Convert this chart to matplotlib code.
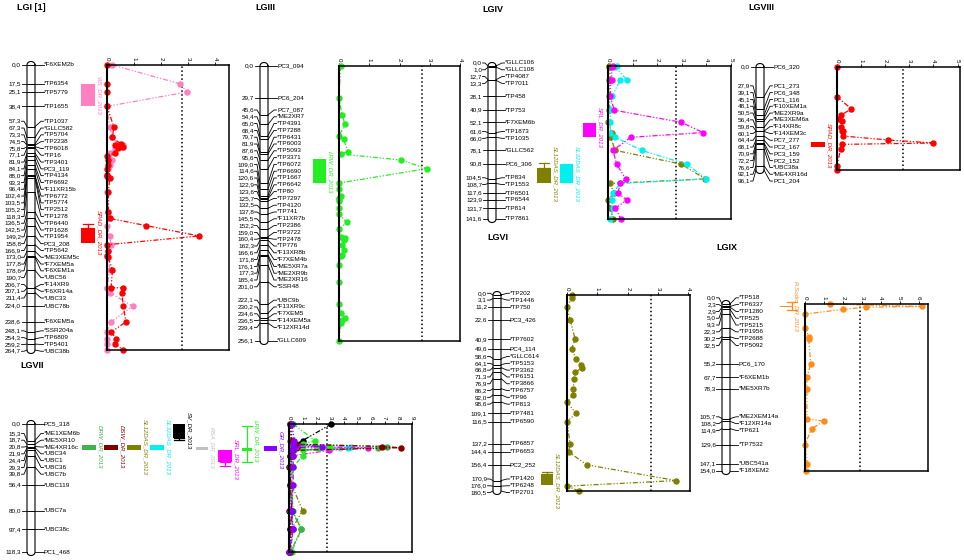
import numpy as np
import matplotlib
matplotlib.use("Agg")
import matplotlib.pyplot as plt
from matplotlib.patches import Rectangle

plt.rcParams['font.family'] = ['Liberation Sans', 'DejaVu Sans']

# ---- linkage groups: marker positions (cM) and names ----
LGI_CM = [0.0, 17.5, 25.1, 38.4, 57.3, 67.3, 73.3, 74.5, 75.8, 77.1, 81.9, 84.1, 88.0, 93.3,
          96.4, 102.4, 103.5, 105.2, 118.3, 136.5, 142.5, 149.2, 158.8, 166.9, 173.0, 177.8,
          178.6, 190.7, 206.7, 207.1, 211.4, 224.0, 238.6, 248.1, 254.3, 259.2, 264.7]
LGI_MK = ['*F6XEM2b', '*TP6354', '*TP5779', '*TP1655', '*TP1037', '*GLLC582', '*TP5704',
          '*TP2238', '*TP6018', '*TP16', '*TP3401', 'PC3_119', '*TP4134', '*TP6692',
          '*F11XR15b', '*TP6772', '*TP5774', '*TP2512', '*TP1278', '*TP6440', '*TP1628',
          '*TP1954', 'PC3_208', '*TP5642', '*ME3XEM5c', '*F7XEM5a', '*F6XEM1a', '*UBC56',
          '*F14XR9', '*F6XR14a', '*UBC33', '*UBC78b', '*F6XEM5a', '*SSR204a', '*TP6809',
          '*TP5401', '*UBC38b']
LGI_SPAD = [0, 0, 0, 0, 0.25, 0.2, 0.5, 0.3, 0.6, 0.4, 0.3, 0.0, 0.05, 0.05, 0.0, 0.0, 0.0,
            0.1, 0.05, 0.05, 0.1, 1.45, 3.4, 0.0, 0.05, 0.0, 0.05, 0.2, 0.15, 0.6, 0.55, 0.6,
            0.7, 0.15, 0.35, 0.3, 0.6]
LGI_WS = [0.2, 2.7, 2.95, 0.0, 0.1, 0.2, 0.4, 0.6, 0.5, 0.3, 0.1, 0.05, 0.2, 0.1, 0.05, 0.0,
          0.0, 0.05, 0.0, 0.05, 0.1, 0.0, 0.1, 0.15, 0.05, 0.0, 0.05, 0.1, 0.0, 0.0, 0.1,
          0.95, 0.15, 0.0, 0.0, 0.0, 0.0]

LGIII_CM = [0.0, 29.7, 45.6, 54.4, 65.0, 68.4, 79.7, 81.9, 87.6, 95.6, 109.0, 114.6, 120.6,
            122.9, 123.6, 125.7, 132.5, 137.8, 145.5, 152.2, 159.0, 160.4, 162.3, 166.6,
            171.8, 176.1, 177.3, 185.4, 201.0, 222.1, 230.2, 234.6, 236.5, 239.4, 256.1]
LGIII_MK = ['PC3_094', 'PC6_204', 'PC7_087', '*ME2XR7', '*TP4391', '*TP7288', '*TP6431',
            '*TP6003', '*TP5093', '*TP3371', '*TP6072', '*TP6690', '*TP1667', '*TP6642',
            '*TP80', '*TP7297', '*TP4120', '*TP741', '*F11XR7b', '*TP2386', '*TP3722',
            '*TP2478', '*TP776', '*F13XR8b', '*F7XEM4b', '*ME5XR7a', '*ME2XR9b',
            '*ME2XR16', '*SSR48', '*UBC9b', '*F13XR9c', '*F7XEM5', '*F14XEM5a',
            '*F12XR14d', '*GLLC609']
LGIII_LRW = [0.05, 0.0, 0.1, 0.2, 0.0, 0.15, 0.3, 0.05, 2.05, 2.9, 0.0, 0.0, 0.05, 0.0, 0.0,
             0.0, 0.0, 0.0, 0.25, 0.0, 0.05, 0.2, 0.15, 0.1, 0.15, 0.1, 0.05, 0.0, 0.0, 0.0,
             0.05, 0.2, 0.1, 0.05, 0.0]

LGIV_CM = [0.0, 1.0, 12.7, 13.3, 28.1, 40.9, 52.1, 61.6, 66.0, 78.1, 90.8, 104.5, 108.7,
           117.6, 123.9, 131.7, 141.6]
LGIV_MK = ['*GLLC106', '*GLLC108', '*TP4087', '*TP7011', '*TP458', '*TP753', '*F7XEM6b',
           '*TP1873', '*TP1035', '*GLLC562', 'PC6_306', '*TP834', '*TP1553', '*TP6501',
           '*TP6544', '*TP814', '*TP7861']
LGIV_SRL = [0.2, 0.15, 0.15, 0.1, 0.1, 0.25, 2.98, 3.86, 0.93, 0.2, 0.35, 0.72, 0.5, 0.4,
            0.76, 0.3, 0.53]
LGIV_SL32 = [0.35, 0.3, 0.76, 0.5, 0.15, 0.1, 0.1, 0.1, 0.3, 1.37, 3.2, 4.0, 0.5, 0.2, 0.15,
             0.2, 0.1]
LGIV_SL12 = [0.05, 0.05, 0.1, 0.05, 0.05, 0.05, 0.0, 0.15, 0.1, 0.3, 2.98, 3.95, 0.08, 0.25,
             0.0, 0.1, 0.2]

LGVIII_CM = [0.0, 27.9, 39.1, 45.1, 48.1, 50.5, 56.4, 59.8, 60.1, 64.4, 68.1, 70.9, 72.2,
             76.6, 92.1, 96.1]
LGVIII_MK = ['PC6_320', 'PC1_273', 'PC6_348', 'PC1_116', '*F10XEM1a', '*ME2XR9a',
             '*ME3XEM6a', '*F14XR8c', '*F14XEM3c', 'PC7_277', 'PC2_167', 'PC3_159',
             'PC2_152', '*UBC38a', '*ME4XR16d', 'PC1_204']
LGVIII_SPAD = [0, 0, 0.6, 0.15, 0.1, 0.2, 0.15, 0.2, 0.25, 0.25, 2.13, 4.0, 0.2, 0.15, 0, 0]

LGVI_CM = [0.0, 3.1, 11.2, 22.6, 40.9, 49.6, 58.6, 64.1, 66.8, 71.3, 76.9, 86.2, 92.0, 98.6,
           109.1, 116.5, 137.2, 144.4, 156.4, 170.9, 176.0, 180.5]
LGVI_MK = ['*TP202', '*TP1446', '*TP750', 'PC3_426', '*TP7602', 'PC4_114', '*GLLC614',
           '*TP5153', '*TP3362', '*TP6151', '*TP3866', '*TP6757', '*TP96', '*TP813',
           '*TP7481', '*TP6590', '*TP6857', '*TP6653', 'PC2_252', '*TP1420', '*TP6248',
           '*TP2701']
LGVI_SL12 = [0.15, 0.15, 0.0, 0.1, 0.27, 0.15, 0.3, 0.45, 0.5, 0.27, 0.24, 0.2, 0.2, 0.0,
             0.3, 0.0, 0.1, 0.05, 0.65, 3.6, 0.0, 0.4]

LGIX_CM = [0.0, 2.3, 2.9, 5.0, 9.3, 22.3, 30.2, 32.5, 55.2, 67.7, 78.3, 105.7, 108.2, 114.9,
           129.6, 147.1, 154.0]
LGIX_MK = ['*TP518', '*TP6337', '*TP1280', '*TP525', '*TP5215', '*TP1956', '*TP2688',
           '*TP5092', 'PC6_170', '*F6XEM1b', '*ME5XR7b', '*ME2XEM14a', '*F12XR14a',
           '*TP621', '*TP7532', '*UBC541a', '*F18XEM2']
LGIX_SODIO = [1.3, 6.2, 3.2, 2.0, 0.0, 0.0, 0.2, 0.2, 0.3, 0.1, 0.1, 0.1, 1.0, 0.35, 0.0,
              0.12, 0.05]

LGVII_CM = [0.0, 15.3, 18.7, 20.8, 21.9, 24.4, 29.3, 39.8, 56.4, 80.0, 97.4, 118.3]
LGVII_MK = ['PC5_318', '*ME1XEM6b', '*ME5XR10', '*ME4XR16c', '*UBC34', '*UBC1', '*UBC36',
            '*UBC7b', '*UBC119', '*UBC7a', '*UBC38c', 'PC1_468']
LGVII_SV = [3.1, 1.0, 0.8, 0.6, 0.3, 0.2, 0.1, 0.0, 0.1, 0.0, 0.1, 0.0]
LGVII_RSA = [0.2, 0.3, 0.5, 1.0, 3.7, 0.3, 0.2, 0.1, 0.1, 0.2, 0.9, 0.1]
LGVII_SRL = [0.1, 0.2, 0.3, 0.5, 5.8, 2.9, 0.3, 0.1, 0.2, 0.1, 0.3, 0.1]
LGVII_LRW = [0.3, 1.9, 1.0, 3.0, 2.2, 1.0, 1.0, 0.3, 0.2, 0.3, 0.9, 0.2]
LGVII_GR = [0.2, 0.4, 0.3, 2.4, 0.4, 0.2, 0.3, 0.3, 0.3, 0.2, 0.3, 0.0]
LGVII_DSW = [0.1, 0.2, 0.5, 6.8, 8.2, 0.3, 0.2, 0.1, 0.1, 0.2, 0.1, 0.1]
LGVII_SL12 = [0.1, 0.1, 0.2, 0.5, 0.6, 0.2, 0.1, 0.1, 0.2, 1.0, 0.2, 0.0]
LGVII_SL32 = [0.1, 0.2, 0.4, 4.5, 4.3, 0.3, 0.2, 0.2, 0.1, 0.2, 0.3, 0.1]
LGVII_DRW = [0.1, 0.2, 0.5, 7.2, 6.5, 0.4, 0.2, 0.1, 0.1, 0.2, 0.9, 0.1]

# QTL intervals: (label, start cM, end cM, whisker start, whisker end)
QTL_LGI = [('WS_DR_2013', 17.5, 38.4, None, None), ('SPAD_DR_2013', 151.3, 165.3, 147.6, 151.3)]
QTL_LGIII = [('LRW_DR_2013', 86.6, 109.0, None, None)]
QTL_LGIV = [('SRL_DR_2013', 53.0, 65.8, None, None),
            ('SL12DAS_DR_2013', 94.0, 108.7, 89.5, 94.0),
            ('SL32DAS_DR_2013', 90.4, 108.7, None, None)]
QTL_LGVIII = [('SPAD_DR_2013', 70.0, 74.8, None, None)]
QTL_LGVI = [('SL12DAS_DR_2013', 164.8, 175.0, 163.0, 164.8)]
QTL_LGIX = [('R.Sodio_DR_2013', 1.5, 2.5, -2.0, 5.5)]
QTL_LGVII = [('DRW_DR_2013', 19.1, 23.8, None, None), ('DSW_DR_2013', 19.1, 23.8, None, None),
             ('SL12DAS_DR_2013', 19.1, 23.8, None, None),
             ('SL32DAS_DR_2013', 19.1, 23.8, None, None),
             ('SV_DR_2013', 0.0, 12.6, 12.6, 14.4), ('RSA_DR_2013', 21.0, 23.8, None, None),
             ('SRL_DR_2013', 23.8, 35.0, 35.0, 38.7), ('LRW_DR_2013', 21.9, 24.7, 2.3, 35.0),
             ('GR_DR_2013', 20.0, 24.7, None, None)]

RED, PINK, GREEN, MAGENTA = '#ff0000', '#ff7fc0', '#22ee22', '#ff00ff'
OLIVE, CYAN, ORANGE, DKRED = '#808000', '#00f0f0', '#ff8c1a', '#800000'
GRAY, PURPLE, BLACK, DRWGREEN = '#c0c0c0', '#8a00ff', '#000000', '#3cb44b'

W, H = 964.0, 560.0
fig = plt.figure(figsize=(9.64, 5.6), dpi=100)
LINE = (0, (4, 1.5, 1, 1.5, 1, 1.5))


def px_axes(x0, x1, y0, y1):
    return fig.add_axes([x0 / W, 1 - y1 / H, (x1 - x0) / W, (y1 - y0) / H])


def spread(vals, gap):
    # group crowded labels into clusters, evenly spaced and centred on the cluster span
    clusters = [[v] for v in vals]

    def start(cl):
        return (cl[0] + cl[-1]) / 2 - gap * (len(cl) - 1) / 2

    merged = True
    while merged:
        merged = False
        i = 0
        while i < len(clusters) - 1:
            a, b = clusters[i], clusters[i + 1]
            if start(a) + gap * len(a) > start(b) + 1e-9:
                clusters[i] = a + b
                del clusters[i + 1]
                merged = True
            else:
                i += 1
    out = []
    for cl in clusters:
        s0 = start(cl)
        out += [s0 + gap * k for k in range(len(cl))]
    return np.array(out)


def draw_group(title, tx, ty, cm, names, xc, y0, y1, lx0, lx1, xmax, traits, qtls, qlay,
               thr=2.75):
    cmax = cm[-1]
    s = (y1 - y0) / cmax
    left = xc - 30
    ax = px_axes(left, lx0, y0, y1)
    ax.set_xlim(left, lx0)
    ax.set_ylim(cmax, 0)
    ax.axis('off')
    fig.text(tx / W, 1 - ty / H, title, fontsize=6.5, fontweight='bold', ha='left', va='center')

    # chromosome outline
    hw, r = 4, 3.5 / s
    t1 = np.linspace(0, np.pi, 30)
    t2 = np.linspace(np.pi, 2 * np.pi, 30)
    ox = np.concatenate([xc + hw * np.cos(t1), xc + hw * np.cos(t2), [xc + hw]])
    oy = np.concatenate([-r * np.sin(t1), cmax - r * np.sin(t2), [0]])
    ax.plot(ox, oy, color='k', lw=0.8, clip_on=False)
    ax.hlines(cm, xc - hw, xc + hw, color='k', lw=0.7)

    ly = spread(cm, 6.8 / s)
    for c, l, nm in zip(cm, ly, names):
        ax.plot([xc - 9.5, xc - 7, xc - hw], [l, l, c], color='k', lw=0.6, clip_on=False)
        ax.plot([xc + hw, xc + 10, xc + 12.5], [c, l, l], color='k', lw=0.6, clip_on=False)
        ax.text(xc - 10, l, f"{c:.1f}".replace('.', ','), ha='right', va='center', fontsize=4.6)
        ax.text(xc + 13, l, nm, ha='left', va='center', fontsize=4.6)

    # QTL boxes
    for (lab, c0, c1, w0, w1), (bx0, bx1, col, lc, wx) in zip(qtls, qlay):
        ax.add_patch(Rectangle((bx0, c0), bx1 - bx0, c1 - c0, color=col, lw=0, clip_on=False))
        if w0 is not None:
            xm = (bx0 + bx1) / 2 if wx is None else wx
            ax.plot([xm, xm], [w0, w1], color=col, lw=0.9, clip_on=False)
            ax.plot([xm - 5, xm + 5], [w0, w0], color=col, lw=0.9, clip_on=False)
            ax.plot([xm - 5, xm + 5], [w1, w1], color=col, lw=0.9, clip_on=False)
        yc = (c0 + c1) / 2 if lc is None else lc
        ax.text(bx1 + 1.5, yc, lab, rotation=270, ha='left', va='center', fontsize=4.4,
                color=col, style='italic')

    # LOD profile panel
    lx = px_axes(lx0, lx1, y0, y1)
    lx.set_xlim(0, xmax)
    lx.set_ylim(cmax, 0)
    lx.xaxis.tick_top()
    lx.set_yticks([])
    lx.set_xticks(range(int(xmax) + 1))
    lx.tick_params(axis='x', labelsize=4.5, length=2, width=0.6, pad=1, labelrotation=-90)
    for sp in lx.spines.values():
        sp.set_linewidth(1.1)
    lx.spines['left'].set_linewidth(1.5)
    lx.axvline(thr, color='k', ls=(0, (1, 1.6)), lw=1.1)
    for vals, col in traits:
        lx.plot(vals, cm, color=col, lw=0.9, ls=LINE, marker='o', ms=3.6, clip_on=False)


draw_group('LGI [1]', 17, 8, LGI_CM, LGI_MK, 31, 65, 350, 107, 229, 4.5,
           [(LGI_WS, PINK), (LGI_SPAD, RED)], QTL_LGI,
           [(81, 95, PINK, 28, None), (81, 95, RED, 156, None)])
draw_group('LGIII', 255, 8, LGIII_CM, LGIII_MK, 264, 66, 341, 339, 460, 4.0,
           [(LGIII_LRW, GREEN)], QTL_LGIII, [(313, 326, GREEN, 99, None)])
draw_group('LGIV', 482, 9, LGIV_CM, LGIV_MK, 492, 66, 219, 608, 731, 5.0,
           [(LGIV_SL12, OLIVE), (LGIV_SL32, CYAN), (LGIV_SRL, MAGENTA)], QTL_LGIV,
           [(583, 596, MAGENTA, 57, None), (537, 551, OLIVE, 100, None),
            (560, 573, CYAN, 100, None)])
draw_group('LGVIII', 748, 8, LGVIII_CM, LGVIII_MK, 760, 67, 170, 837, 960, 5.1,
           [(LGVIII_SPAD, RED)], QTL_LGVIII, [(811, 825, RED, 73, None)])
draw_group('LGVI', 487, 238, LGVI_CM, LGVI_MK, 497, 295, 491, 567, 690, 4.05,
           [(LGVI_SL12, OLIVE)], QTL_LGVI, [(541, 553, OLIVE, 171, None)])
draw_group('LGIX', 716, 247, LGIX_CM, LGIX_MK, 726, 304, 471, 805, 928, 6.5,
           [(LGIX_SODIO, ORANGE)], QTL_LGIX, [(780, 792, ORANGE, 2, 792)], thr=2.9)
draw_group('LGVII', 20, 366, LGVII_CM, LGVII_MK, 31, 424, 552, 289, 412, 9.0,
           [(LGVII_RSA, GRAY), (LGVII_SL32, CYAN), (LGVII_SL12, OLIVE), (LGVII_SV, BLACK),
            (LGVII_SRL, MAGENTA), (LGVII_LRW, GREEN), (LGVII_DRW, DRWGREEN),
            (LGVII_DSW, DKRED), (LGVII_GR, PURPLE)],
           QTL_LGVII,
           [(82, 96, DRWGREEN, 21, None), (104, 118, DKRED, 21, None),
            (127, 141, OLIVE, 21, None), (150, 164, CYAN, 21, None),
            (173, 185, BLACK, 6, None), (196, 208, GRAY, 22, None),
            (218, 232, MAGENTA, 33, None), (242, 252, GREEN, 15.5, None),
            (264, 277, PURPLE, 24, None)])

fig.savefig('out.png', dpi=100)
